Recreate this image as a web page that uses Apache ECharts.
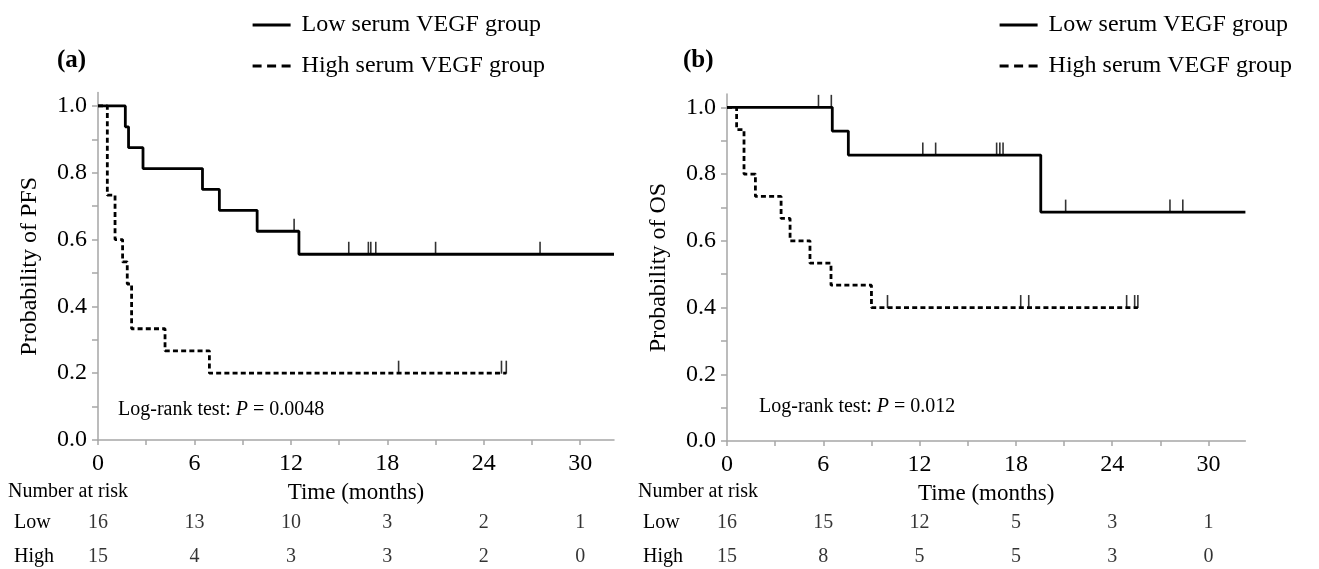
<!DOCTYPE html>
<html>
<head>
<meta charset="utf-8">
<script src="https://cdn.jsdelivr.net/npm/echarts@6/dist/echarts.min.js"></script>
<style>html,body{margin:0;padding:0;background:#fff;}#c{width:1319px;height:569px;}</style>
</head>
<body>
<div id="c"></div>
<script>
// ---------- data ----------
const groupLow = 'Low serum VEGF group';
const groupHigh = 'High serum VEGF group';

// (a) PFS
const pfsLowTimes = [0, 1.7, 1.9, 2.8, 6.5, 7.55, 9.9, 12.5];
const pfsLowSurv  = [1, 0.9375, 0.875, 0.8125, 0.75, 0.6875, 0.625, 0.556];
const pfsLowEnd = 32.1;
const pfsLowCensor = [12.2, 15.6, 16.82, 16.97, 17.28, 21.0, 27.5];

const pfsHighTimes = [0, 0.58, 1.06, 1.53, 1.82, 2.09, 4.17, 6.93];
const pfsHighSurv  = [1, 0.733, 0.6, 0.533, 0.467, 0.333, 0.267, 0.2];
const pfsHighEnd = 25.4;
const pfsHighCensor = [18.7, 25.1, 25.4];

// (b) OS
const osLowTimes = [0, 6.56, 7.56, 19.55];
const osLowSurv  = [1, 0.929, 0.857, 0.686];
const osLowEnd = 32.3;
const osLowCensor = [5.7, 6.5, 12.2, 13.0, 16.8, 17.0, 17.2, 21.1, 27.6, 28.4];

const osHighTimes = [0, 0.6, 1.06, 1.77, 3.37, 3.93, 5.17, 6.48, 9.0];
const osHighSurv  = [1, 0.933, 0.8, 0.733, 0.667, 0.6, 0.533, 0.467, 0.4];
const osHighEnd = 25.6;
const osHighCensor = [10.0, 18.3, 18.8, 24.9, 25.4, 25.6];

// number at risk
const riskTimes = [0, 6, 12, 18, 24, 30];
const riskRows = ['Low', 'High'];
const pfsRiskLow  = [16, 13, 10, 3, 2, 1];
const pfsRiskHigh = [15, 4, 3, 3, 2, 0];
const osRiskLow   = [16, 15, 12, 5, 3, 1];
const osRiskHigh  = [15, 8, 5, 5, 3, 0];

// tick values
const xTickValues = [0, 3, 6, 9, 12, 15, 18, 21, 24, 27, 30];
const xLabelValues = [0, 6, 12, 18, 24, 30];
const yTickValues = [0, 0.1, 0.2, 0.3, 0.4, 0.5, 0.6, 0.7, 0.8, 0.9, 1.0];
const yLabelValues = [0, 0.2, 0.4, 0.6, 0.8, 1.0];

// ---------- helpers ----------
const FONT = 'Liberation Serif';
const AX = '#a6a6a6';
function stepData(times, surv, end) {
  const d = times.map((t, i) => [t, surv[i]]);
  d.push([end, surv[surv.length - 1]]);
  return d;
}
function survAt(times, surv, t) {
  let s = surv[0];
  for (let i = 0; i < times.length; i++) if (times[i] <= t) s = surv[i];
  return s;
}
function censorData(times, surv, cens) {
  return cens.map(t => [t, survAt(times, surv, t)]);
}
function riskData(vals, row) {
  return riskTimes.map((t, i) => [t, row, vals[i]]);
}
const solidStyle = { color: '#000', width: 2.8, type: 'solid' };
const dashStyle = { color: '#000', width: 2.8, type: [5, 3.2] };

function kmSeries(name, idx, times, surv, end, cens, style) {
  return [
    { name: name, type: 'line', step: 'end', xAxisIndex: idx, yAxisIndex: idx,
      data: stepData(times, surv, end), symbol: 'none', lineStyle: style,
      itemStyle: { color: '#000' }, silent: true, z: 3 },
    { type: 'scatter', xAxisIndex: idx, yAxisIndex: idx,
      data: censorData(times, surv, cens), symbol: 'rect', symbolSize: [1.6, 13],
      symbolOffset: [0, -6], itemStyle: { color: '#000' }, silent: true, z: 4 }
  ];
}
function riskSeries(idx, low, high) {
  return {
    type: 'scatter', xAxisIndex: idx, yAxisIndex: idx,
    data: riskData(low, 'Low').concat(riskData(high, 'High')),
    symbol: 'circle', symbolSize: 1, itemStyle: { color: 'rgba(0,0,0,0)' },
    label: { show: true, position: 'inside', color: '#000', fontFamily: FONT, fontSize: 20,
      formatter: p => String(p.value[2]) },
    silent: true
  };
}
function mainX(idx, max) {
  return {
    type: 'value', gridIndex: idx, min: 0, max: max,
    name: 'Time (months)', nameLocation: 'middle', nameGap: 41,
    nameTextStyle: { fontFamily: FONT, fontSize: 23, color: '#000' },
    axisLine: { show: true, lineStyle: { color: AX, width: 1.5 } },
    axisTick: { show: true, length: 5, lineStyle: { color: AX, width: 1.5 }, customValues: xTickValues },
    axisLabel: { fontFamily: FONT, fontSize: 24, color: '#000', margin: 12, customValues: xLabelValues },
    splitLine: { show: false }
  };
}
function mainY(idx, name) {
  return {
    type: 'value', gridIndex: idx, min: 0, max: 1.04,
    name: name, nameLocation: 'middle', nameGap: 56, nameRotate: 90,
    nameTextStyle: { fontFamily: FONT, fontSize: 24, color: '#000' },
    axisLine: { show: true, lineStyle: { color: AX, width: 1.5 } },
    axisTick: { show: true, length: 6, lineStyle: { color: AX, width: 1.5 }, customValues: yTickValues },
    axisLabel: { fontFamily: FONT, fontSize: 24, color: '#000', margin: 11,
      customValues: yLabelValues, formatter: v => v.toFixed(1) },
    splitLine: { show: false }
  };
}
function riskX(idx, max) {
  return { type: 'value', gridIndex: idx, min: 0, max: max, show: false };
}
function riskY(idx) {
  return {
    type: 'category', gridIndex: idx, data: riskRows, inverse: true, boundaryGap: false,
    axisLine: { show: false }, axisTick: { show: false },
    axisLabel: { align: 'left', margin: 84, fontFamily: FONT, fontSize: 20, color: '#000' }
  };
}
function logrank(x, y, p) {
  return {
    type: 'text', left: x, top: y,
    style: {
      text: '{a|Log-rank test: }{i|P}{a| = ' + p + '}',
      rich: {
        a: { fontFamily: FONT, fontSize: 20, fill: '#000' },
        i: { fontFamily: FONT, fontSize: 20, fontStyle: 'italic', fill: '#000' }
      }
    }
  };
}
function legendFor(left) {
  return {
    orient: 'vertical', left: left, top: 8, itemGap: 17, itemWidth: 38, itemHeight: 14,
    data: [
      { name: groupLow },
      { name: groupHigh, lineStyle: { type: [9, 5.5] } }
    ],
    selectedMode: false,
    textStyle: { fontFamily: FONT, fontSize: 24, color: '#000', padding: [0, 0, 0, 6] },
    itemStyle: { opacity: 0 },
    lineStyle: { width: 3.2 }
  };
}

const option = {
  animation: false,
  backgroundColor: '#fff',
  title: [
    { text: '(a)', left: 52, top: 43, textStyle: { fontFamily: FONT, fontSize: 25, fontWeight: 'bold', color: '#000' } },
    { text: '(b)', left: 678, top: 43, textStyle: { fontFamily: FONT, fontSize: 25, fontWeight: 'bold', color: '#000' } }
  ],
  legend: [legendFor(246), legendFor(993)],
  grid: [
    { left: 98, top: 92.6, width: 516, height: 347.4 },
    { left: 727, top: 94, width: 518.4, height: 347 },
    { left: 98, top: 523, width: 516, height: 34 },
    { left: 727, top: 523, width: 518.4, height: 34 }
  ],
  xAxis: [mainX(0, 32.1), mainX(1, 32.3), riskX(2, 32.1), riskX(3, 32.3)],
  yAxis: [mainY(0, 'Probability of PFS'), mainY(1, 'Probability of OS'), riskY(2), riskY(3)],
  graphic: [
    logrank(118, 400, '0.0048'),
    logrank(759, 397, '0.012'),
    { type: 'text', left: 8, top: 482, style: { text: 'Number at risk', fontFamily: FONT, fontSize: 20, fill: '#000' } },
    { type: 'text', left: 638, top: 482, style: { text: 'Number at risk', fontFamily: FONT, fontSize: 20, fill: '#000' } }
  ],
  series: [].concat(
    kmSeries(groupLow, 0, pfsLowTimes, pfsLowSurv, pfsLowEnd, pfsLowCensor, solidStyle),
    kmSeries(groupHigh, 0, pfsHighTimes, pfsHighSurv, pfsHighEnd, pfsHighCensor, dashStyle),
    kmSeries(groupLow, 1, osLowTimes, osLowSurv, osLowEnd, osLowCensor, solidStyle),
    kmSeries(groupHigh, 1, osHighTimes, osHighSurv, osHighEnd, osHighCensor, dashStyle),
    [riskSeries(2, pfsRiskLow, pfsRiskHigh), riskSeries(3, osRiskLow, osRiskHigh)]
  )
};
const chart = echarts.init(document.getElementById('c'));
chart.setOption(option);
</script>
</body>
</html>
